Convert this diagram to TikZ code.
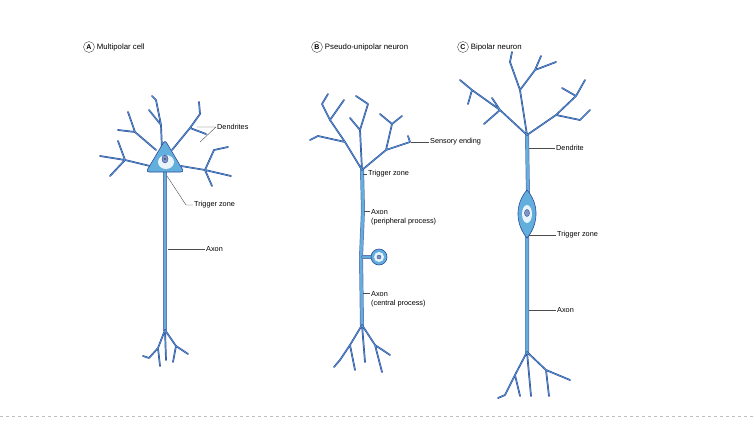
\documentclass[tikz,border=0pt]{standalone}
\usepackage{fontspec}
\setmainfont{Liberation Sans}
\usetikzlibrary{positioning}
\definecolor{cellblue}{HTML}{62AEDC}
\definecolor{dendblue}{HTML}{2E4C9C}
\definecolor{somafill}{HTML}{E8F4FA}
\tikzset{
  dend/.style={draw=dendblue, line width=1.7pt, line cap=round, line join=round,
    postaction={draw=cellblue!90!dendblue, line width=0.5pt}},
  axon/.style={draw=dendblue!75, line width=4pt, line cap=round,
    postaction={draw=cellblue, line width=2.6pt}},
  lead/.style={draw=black!70, line width=0.4pt},
  lbl/.style={font=\fontsize{7.3}{8.5}\selectfont, anchor=west, inner sep=1pt, align=left},
  head/.style={font=\fontsize{7.8}{9}\selectfont, anchor=west, inner sep=1pt},
  letter/.style={circle, draw=black!70, inner sep=0.8pt, minimum size=11pt,
    font=\fontsize{7}{8}\selectfont\bfseries}
}
\begin{document}
\begin{tikzpicture}[x=1pt, y=-1pt]
\useasboundingbox (0,0) rectangle (754,439);
\fill[white] (0,0) rectangle (754,439);
\draw[black!25, dashed] (0,416) -- (754,416);
% headers
\node[letter] (la) at (89,47) {A};
\node[head, right=1pt of la] (ta) {Multipolar cell};
\node[letter] (lb) at (317,47) {B};
\node[head, right=1pt of lb] (tb) {Pseudo-unipolar neuron};
\node[letter] (lc) at (463,47) {C};
\node[head, right=1pt of lc] (tc) {Bipolar neuron};

% A: multipolar cell
\draw[axon] (165,172) -- (165,330);
\draw[dend] (165,330) -- (158,348) -- (149,358) (158,348) -- (160,366) (149,358) -- (143,356)
  (165,330) -- (176,346) -- (188,354) (176,346) -- (173,362) (165,330) -- (166,360);
\draw[dend] (162,150) -- (161,125) -- (156,100) (161,125) -- (149,110) (156,100) -- (152,96)
  (156,150) -- (135,132) -- (118,130) (135,132) -- (128,112)
  (172,150) -- (190,128) -- (200,114) (190,128) -- (206,134) (200,114) -- (199,102)
  (150,166) -- (125,160) -- (100,156) (125,160) -- (110,176) (125,160) -- (118,141)
  (181,166) -- (205,170) -- (231,176) (205,170) -- (212,186) (205,170) -- (214,150) -- (228,147);
\draw[draw=dendblue, fill=cellblue, line width=0.6pt, rounded corners=3pt]
  (165,140) -- (184,172) -- (146,172) -- cycle;
\fill[somafill] (166,162) ellipse (8 and 7);
\draw[dendblue, fill=dendblue!60] (165,159) ellipse (3 and 4);
\fill[black!80] (165,159) circle (0.8);
\node[lbl] (adend) at (216,127) {Dendrites};
\draw[lead] (adend.west) -- (197,127) (adend.west) -- (200,142);
\node[lbl] (atrig) at (193,205) {Trigger zone};
\draw[lead] (atrig.west) -- (186,205) -- (167,176);
\node[lbl] (aaxon) at (205,249) {Axon};
\draw[lead] (aaxon.west) -- (168,249);

% B: pseudo-unipolar neuron
\draw[axon] (362,170) -- (363,210) -- (361,257) -- (362,325);
\draw[dend] (362,325) -- (350,345) -- (340,360) (350,345) -- (355,370)
  (362,325) -- (375,345) -- (390,355) (375,345) -- (382,372) (362,325) -- (365,362)
  (340,360) -- (334,367);
\draw[dend] (362,170) -- (345,142) -- (330,120) -- (322,104) (345,142) -- (318,136) -- (310,140)
  (330,120) -- (344,100) (322,104) -- (328,94)
  (362,170) -- (360,130) -- (368,104) (368,104) -- (356,96) (360,130) -- (350,118)
  (362,170) -- (386,150) -- (410,142) (386,150) -- (392,124) -- (380,114) (392,124) -- (402,116)
  (410,142) -- (408,136);
\draw[axon] (363,257) -- (372,257);
\draw[dendblue, fill=cellblue, line width=0.6pt] (379,257) circle (8);
\fill[somafill] (379,257) circle (5);
\draw[dendblue, fill=dendblue!60] (379,257) circle (2);
\node[lbl] (bsens) at (429,142) {Sensory ending};
\draw[lead] (bsens.west) -- (411,142);
\node[lbl] (btrig) at (367,174) {Trigger zone};
\draw[lead] (btrig.west) -- (363,174);
\node[lbl] (bper) at (370,217) {Axon\\(peripheral process)};
\draw[lead] (bper.west |- 0,211) -- (364,211);
\node[lbl] (bcen) at (370,299) {Axon\\(central process)};
\draw[lead] (bcen.west |- 0,293) -- (363,293);

% C: bipolar neuron
\draw[axon] (527,135) -- (528,195) (527,233) -- (527,352);
\draw[dend] (527,352) -- (515,375) -- (505,395) (515,375) -- (520,396)
  (527,352) -- (546,370) -- (570,380) (546,370) -- (549,396) (527,352) -- (531,396)
  (505,395) -- (498,398);
\draw[dend] (527,135) -- (500,110) -- (472,90) -- (460,80) (500,110) -- (484,124) (472,90) -- (468,104)
  (527,135) -- (520,90) -- (510,62) (520,90) -- (535,70) -- (541,56) (535,70) -- (556,62)
  (510,62) -- (512,52) (527,135) -- (556,115) -- (576,96) -- (585,80)
  (556,115) -- (580,120) -- (590,110) (576,96) -- (562,88) (500,110) -- (492,98);
\draw[dendblue, fill=cellblue, line width=0.6pt]
  (527,190) .. controls (540,205) and (538,225) .. (527,238)
  .. controls (516,225) and (514,205) .. (527,190) -- cycle;
\fill[somafill] (527,214) ellipse (5 and 9);
\draw[dendblue, fill=dendblue!60] (527,213) ellipse (2.5 and 3.5);
\node[lbl] (cden) at (555,148) {Dendrite};
\draw[lead] (cden.west) -- (529,148);
\node[lbl] (ctrig) at (556,235) {Trigger zone};
\draw[lead] (ctrig.west) -- (529,235);
\node[lbl] (caxon) at (556,310) {Axon};
\draw[lead] (caxon.west) -- (529,310);
\end{tikzpicture}
\end{document}
